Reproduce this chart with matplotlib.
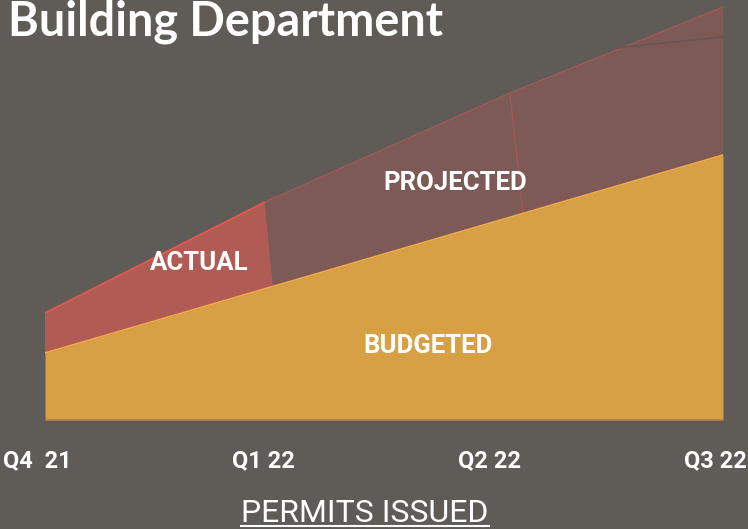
import numpy as np
import matplotlib
matplotlib.use("Agg")
import matplotlib.pyplot as plt
from matplotlib.transforms import ScaledTranslation
from matplotlib.lines import Line2D

# --- data (permits) ---
quarters = ["Q4  21", "Q1 22", "Q2 22", "Q3 22"]
q_x = [0, 1, 2, 3]
budgeted = [67, 133, 199, 265]

# actual: top edge, then split edge (top x / bottom x)
actual_x = [0, 0.973]
actual = [107, 218]
actual_end_bottom_x = 1.009

# projected, two pieces
proj1_x = [0.973, 2.057]
proj1 = [218, 327]
proj1_end_bottom_x = 2.115
proj2_x = [2.057, 3]
proj2 = [327, 413]

# earlier projection line at the far right
alt_x = [2.52, 3]
alt = [372, 383]

BG = "#5f5b57"
ORANGE = "#d8a044"
RED = "#b05c54"
PROJ = "#7e5a57"
NARROW = ["Liberation Sans Narrow", "Roboto", "DejaVu Sans"]

fig = plt.figure(figsize=(7.48, 5.29), dpi=100, facecolor=BG)
ax = fig.add_axes([45 / 748, 109 / 529, 678 / 748, 420 / 529])
ax.set_facecolor(BG)
ax.set_xlim(0, 3)
ax.set_ylim(0, 420)


def segment(top_x, top_y, end_bottom_x, start_bottom_x=None):
    if start_bottom_x is None:
        start_bottom_x = top_x[0]
    bx = [end_bottom_x, start_bottom_x]
    by = list(np.interp(bx, q_x, budgeted))
    return list(top_x) + bx, list(top_y) + by


# budgeted area
ax.fill_between(q_x, 0, budgeted, color=ORANGE, linewidth=0, zorder=1)
ax.plot(q_x, budgeted, color="#f2aa4a", linewidth=1.2, zorder=5)
ax.plot([0, 3], [0, 0], color="#b98140", linewidth=1.5, zorder=5)

# actual
px, py = segment(actual_x, actual, actual_end_bottom_x)
ax.fill(px, py, color=RED, linewidth=0, zorder=2)
ax.plot(actual_x, actual, color="#e05a4e", linewidth=1.3, zorder=4)

# projected
px, py = segment(proj1_x, proj1, proj1_end_bottom_x, actual_end_bottom_x)
ax.fill(px, py, color=PROJ, linewidth=0, zorder=2)
px, py = segment(proj2_x, proj2, 3, proj1_end_bottom_x)
ax.fill(px, py, color=PROJ, linewidth=0, zorder=2)
ax.plot(proj1_x + proj2_x[1:], proj1 + proj2[1:], color="#9c5a52", linewidth=1, zorder=4)
ax.plot([proj1_x[1], proj1_end_bottom_x],
        [proj1[1], np.interp(proj1_end_bottom_x, q_x, budgeted)],
        color="#a85a52", linewidth=0.8, zorder=4)
ax.plot(alt_x, alt, color="#6a5652", linewidth=1.3, zorder=4)

# area labels
lbl = dict(color="white", family=NARROW, fontweight="bold", ha="center", va="center", zorder=6)
ax.text(0.681, 157, "ACTUAL", fontsize=18.5, **lbl)
ax.text(1.814, 237, "PROJECTED", fontsize=18.5, **lbl)
ax.text(1.695, 74, "BUDGETED", fontsize=18.5, **lbl)

# axes styling
for s in ax.spines.values():
    s.set_visible(False)
ax.set_yticks([])
ax.set_xticks(q_x)
ax.set_xticklabels(quarters, color="white", family=NARROW, fontweight="bold", fontsize=17)
ax.tick_params(axis="x", length=0, pad=21)
for t in ax.get_xticklabels():
    t.set_transform(t.get_transform() + ScaledTranslation(-8 / 100, 0, fig.dpi_scale_trans))

fig.text(8 / 748, 1 - 36 / 529, "Building Department", color="white",
         family=["Lato", "DejaVu Sans"], fontweight="bold", fontsize=33.7, va="baseline")

xl = fig.text(365 / 748, 1 - 522 / 529, "PERMITS ISSUED", color="white",
              family=NARROW, fontsize=23, ha="center", va="baseline")

# underline for the axis title
fig.canvas.draw()
bb = xl.get_window_extent(fig.canvas.get_renderer())
uy = 3 / 529
fig.add_artist(Line2D([bb.x0 / 748, bb.x1 / 748], [uy, uy], color="white",
                      linewidth=1.5, transform=fig.transFigure))

fig.savefig("out.png", dpi=100, facecolor=BG)
